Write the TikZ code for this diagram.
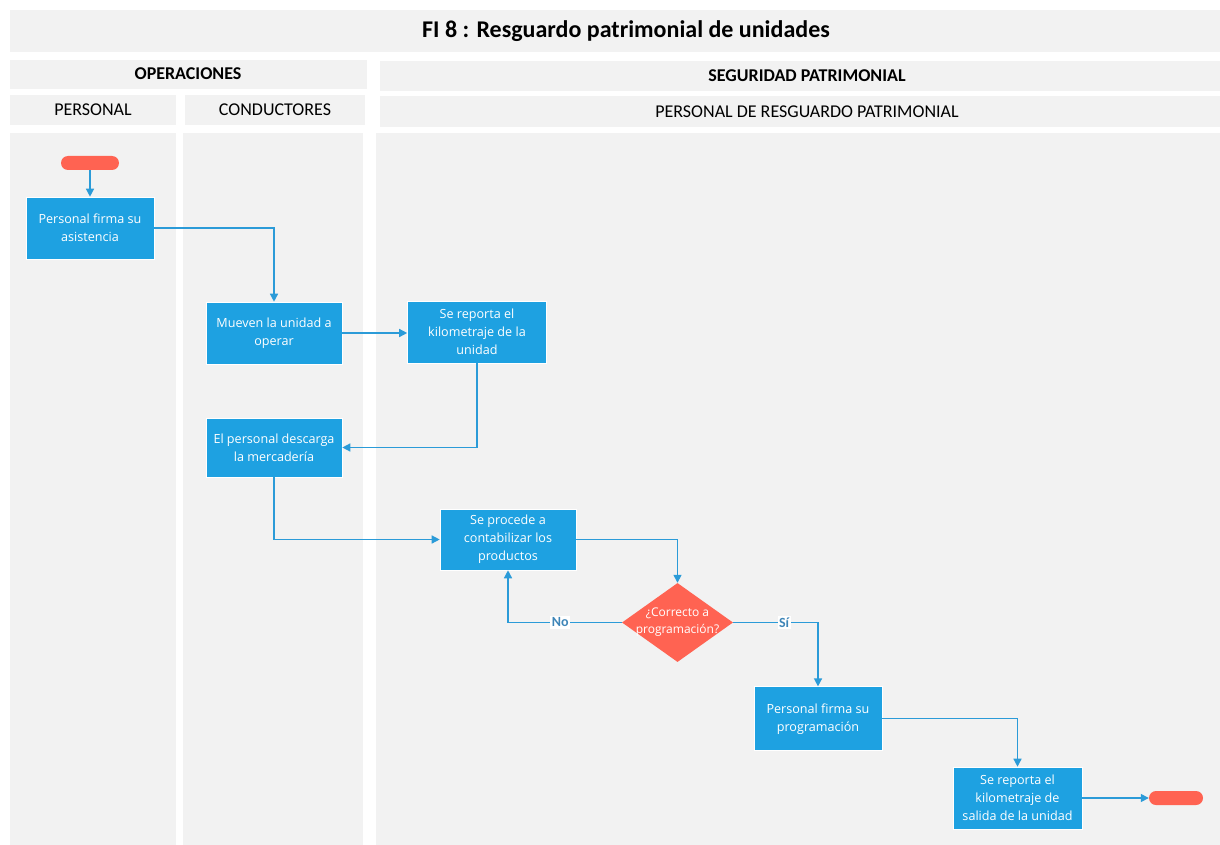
\documentclass[tikz,border=0pt]{standalone}
\usepackage{fontspec}
\setmainfont{Carlito}
\newfontfamily\boxfont{Open Sans}
\usetikzlibrary{shapes.geometric,arrows.meta}

\definecolor{bandgray}{HTML}{F2F2F2}
\definecolor{procblue}{HTML}{1EA1E1}
\definecolor{linkblue}{HTML}{2B9BD8}
\definecolor{coral}{HTML}{FF6352}
\definecolor{labelblue}{HTML}{3F86B8}

\begin{document}
\begin{tikzpicture}[x=1pt,y=-1pt,
  band/.style={fill=bandgray, draw=none},
  proc/.style={rectangle, fill=procblue, draw=white, line width=0.6pt,
    align=center, text=white, inner sep=2pt,
    font=\boxfont\fontsize{12.6}{18}\selectfont},
  term/.style={rectangle, rounded corners=7pt, fill=coral, draw=none,
    minimum width=58pt, minimum height=14pt, inner sep=0pt},
  decision/.style={diamond, fill=coral, draw=none, minimum width=111pt,
    minimum height=79pt, inner sep=0pt},
  link/.style={draw=linkblue, line width=1.4pt,
    -{Triangle[length=8pt,width=8pt]}},
  branch/.style={fill=white, text=labelblue, inner sep=1.5pt,
    font=\bfseries\fontsize{14}{16}\selectfont},
  head/.style={font=\fontsize{18}{21}\selectfont},
  boldhead/.style={font=\bfseries\fontsize{18}{21}\selectfont}
]
\useasboundingbox (0,0) rectangle (1220,845);
\fill[white] (0,0) rectangle (1220,845);

% title and lane headers
\path[band] (10,10) rectangle (1220,52);
\node[font=\bfseries\fontsize{24}{28}\selectfont] (title) at (626,31)
  {FI 8 : Resguardo patrimonial de unidades};

\path[band] (10,60) rectangle (367,89);
\path[band] (380,61) rectangle (1220,91);
\node[boldhead] (ops) at (188,74) {OPERACIONES};
\node[boldhead] (seg) at (807,76) {SEGURIDAD PATRIMONIAL};

\path[band] (10,95) rectangle (176,125);
\path[band] (185,95) rectangle (365,125);
\path[band] (380,96) rectangle (1220,127);
\node[head] (lpers) at (93,110) {PERSONAL};
\node[head] (lcond) at (275,110) {CONDUCTORES};
\node[head] (lres) at (807,112) {PERSONAL DE RESGUARDO PATRIMONIAL};

% swimlanes
\path[band] (10,133) rectangle (176,845);
\path[band] (183,133) rectangle (363,845);
\path[band] (376,133) rectangle (1220,845);

% flow
\node[term] (start) at (90,163) {};
\node[proc, minimum width=128pt, minimum height=62pt] (b1) at (90,228)
  {Personal firma su\\asistencia};
\node[proc, minimum width=136pt, minimum height=62pt] (b2) at (274,333)
  {Mueven la unidad a\\operar};
\node[proc, minimum width=139pt, minimum height=62pt] (b3) at (477,332)
  {Se reporta el\\kilometraje de la\\unidad};
\node[proc, minimum width=136pt, minimum height=59pt] (b4) at (274,447.5)
  {El personal descarga\\la mercadería};
\node[proc, minimum width=136pt, minimum height=61pt] (b5) at (508,539.5)
  {Se procede a\\contabilizar los\\productos};
\node[decision] (dec) at (677.5,622.5) {};
\node[text=white, align=center, font=\boxfont\fontsize{12}{17}\selectfont]
  (dectext) at (dec) {¿Correcto a\\programación?};
\node[proc, minimum width=128pt, minimum height=64pt] (b6) at (818,718.7)
  {Personal firma su\\programación};
\node[proc, minimum width=129pt, minimum height=62pt] (b7) at (1017.5,798)
  {Se reporta el\\kilometraje de\\salida de la unidad};
\node[term, minimum width=54pt] (stop) at (1176,798) {};

% connectors
\draw[link] (start.south) -- (b1.north);
\draw[link] (b1.east) -| (b2.north);
\draw[link] (b2.east) -- (b2.east -| b3.west);
\draw[link] (b3.south) |- (b4.east);
\draw[link] (b4.south) |- (b5.west);
\draw[link] (b5.east) -| (dec.north);
\draw[link] (dec.west) -| (b5.south)
  node[branch, pos=0.27] (lno) {No};
\draw[link] (dec.east) -| (b6.north)
  node[branch, pos=0.3] (lsi) {Sí};
\draw[link] (b6.east) -| (b7.north);
\draw[link] (b7.east) -- (stop.west);
\end{tikzpicture}
\end{document}
